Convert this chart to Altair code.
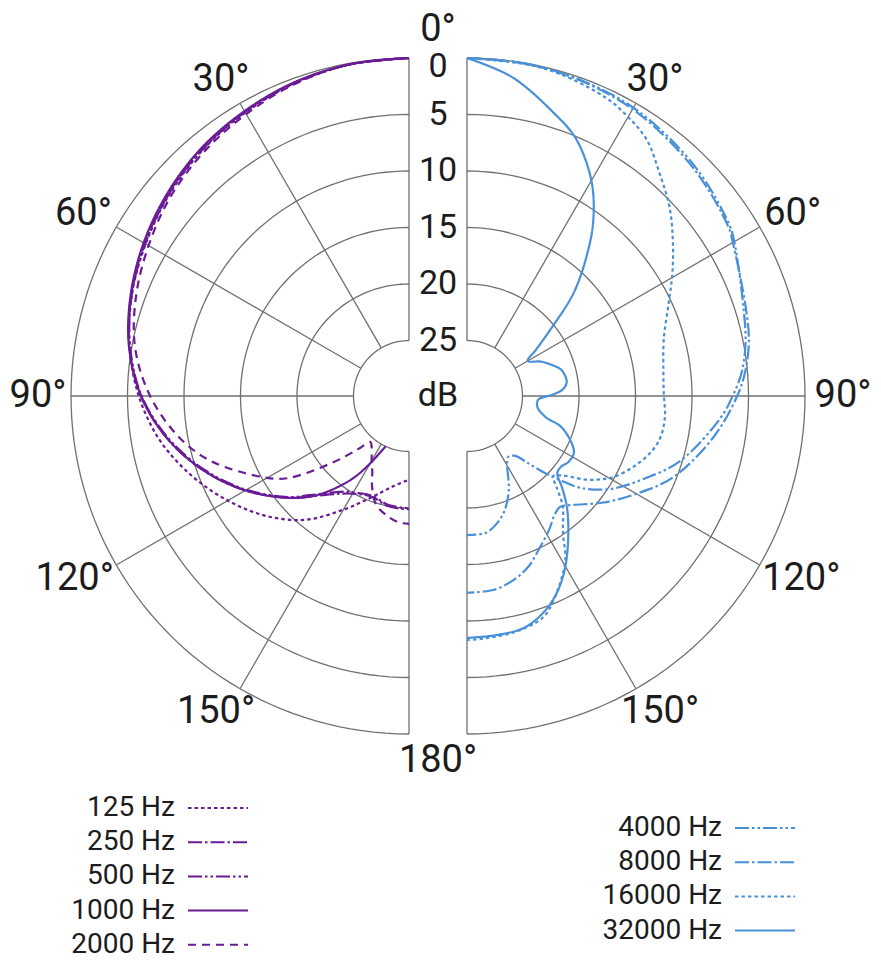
import altair as alt
import pandas as pd

# ---------------- data ----------------
LEFT_FREQS = ["125 Hz", "250 Hz", "500 Hz", "1000 Hz", "2000 Hz"]
RIGHT_FREQS = ["4000 Hz", "8000 Hz", "16000 Hz", "32000 Hz"]

# attenuation (dB) vs angle (deg)
F125_ANG = [0, 10, 20, 30, 40, 50, 60, 70, 80, 90, 100, 110, 120, 130, 140, 150, 160, 170, 180]
F125_DB = [0, 0.1, 0.45, 0.95, 1.5, 2.2, 3.0, 3.8, 4.8, 6.0, 7.5, 9.4, 11.4, 13.4, 15.6, 18.3, 20.4, 21.8, 22.5]

F250_ANG = [0, 10, 20, 30, 40, 50, 60, 70, 80, 90, 100, 110, 120, 130, 135, 141, 146, 152, 160, 169, 178, 180]
F250_DB = [0, 0.1, 0.4, 0.85, 1.4, 2.1, 2.9, 3.75, 4.8, 6.2, 8.2, 10.6, 13.2, 15.9, 17.3, 18.7, 19.5, 20.1, 20.4, 20.0, 19.9, 19.9]

F500_ANG = [0, 10, 20, 30, 40, 50, 60, 70, 80, 90, 100, 110, 120, 130, 135, 141, 146, 152, 160, 169, 178, 180]
F500_DB = [0, 0.1, 0.4, 0.9, 1.45, 2.15, 2.95, 3.8, 4.85, 6.25, 8.3, 10.7, 13.3, 16.0, 17.5, 18.9, 19.7, 20.2, 20.5, 20.1, 20.0, 20.0]

F1000_ANG = [0, 10, 20, 30, 40, 50, 60, 70, 80, 90, 100, 110, 120, 130, 137, 145, 150, 155]
F1000_DB = [0, 0.1, 0.35, 0.8, 1.3, 2.0, 2.8, 3.7, 4.75, 6.2, 8.2, 10.6, 13.2, 15.9, 17.9, 20.8, 23.0, 25.0]

F2000_ANG = [0, 10, 20, 30, 40, 50, 60, 70, 80, 90, 100, 108, 119, 124, 131, 136, 140, 143, 150, 154, 158, 163, 169, 175, 180]
F2000_DB = [0, 0.1, 0.5, 1.1, 1.7, 2.4, 3.3, 4.2, 5.3, 7.0, 9.2, 11.4, 15.1, 16.9, 20.9, 23.3, 24.6, 24.4, 23.3, 22.5, 21.2, 19.9, 19.2, 18.7, 18.6]

F4000_ANG = [0, 10, 20, 31, 45, 57, 60, 72, 79, 85, 90, 95, 107, 115, 123, 129, 132, 135, 138, 141, 146, 150, 156, 162, 167, 172, 180]
F4000_DB = [0, 0.05, 0.2, 0.5, 1.3, 2.2, 2.6, 4.2, 4.8, 5.5, 6.4, 7.4, 10.2, 12.6, 14.8, 17.0, 18.8, 20.4, 22.0, 23.1, 23.4, 22.8, 20.8, 19.2, 18.3, 17.7, 17.6]

F8000_ANG = [0, 10, 20, 31, 45, 57, 60, 72, 79, 85, 90, 99.5, 111.5, 120, 128, 136, 140, 144, 148, 155, 160, 165, 172, 180]
F8000_DB = [0, 0.05, 0.25, 0.65, 1.5, 2.35, 2.75, 4.0, 4.5, 5.2, 6.0, 7.8, 10.3, 12.6, 14.6, 16.5, 17.1, 16.8, 16.1, 14.9, 13.9, 13.2, 12.6, 12.5]

F16000_ANG = [0, 10, 16, 25, 30, 35, 41, 47, 53, 59, 65, 74, 83, 89, 96, 102, 107, 113, 119, 122, 125, 128, 130.5, 133, 135.5, 139, 145, 149, 153, 157, 161, 168.5, 176, 180]
F16000_DB = [0, 0.1, 0.25, 0.8, 1.4, 2.2, 3.9, 5.4, 7.1, 8.7, 10.2, 11.8, 12.4, 12.5, 12.3, 12.4, 12.9, 13.9, 15.1, 16.0, 17.0, 18.3, 19.1, 19.5, 18.6, 17.0, 15.1, 13.0, 11.6, 10.3, 9.2, 8.6, 8.4, 8.3]

F32000_ANG = [0, 8, 17, 23, 30, 35.6, 40, 46, 51.5, 56, 60, 65, 70, 74, 77, 82, 86, 89, 93, 99, 105, 108, 113, 118, 123, 127, 130.5, 134, 138, 143.6, 150, 155, 160, 166, 172.6, 180]
F32000_DB = [0, 1.4, 3.7, 5.2, 7.9, 10.7, 13.3, 16.8, 20.5, 22.5, 23.7, 22.7, 21.9, 21.3, 21.1, 21.0, 21.4, 22.3, 23.6, 23.6, 22.7, 21.2, 20.0, 19.2, 19.2, 19.5, 19.4, 18.2, 16.7, 14.8, 12.5, 10.9, 9.7, 8.8, 8.6, 8.5]

RING_DB = [0, 5, 10, 15, 20, 25]
SPOKE_ANGLES = [0, 30, 60, 90, 120, 150, 180]
SIDE_LABEL_ANGLES = [30, 60, 90, 120, 150]
CENTER_LABEL_ANGLES = [0, 180]

# ---------------- styling / layout ----------------
PURPLE = "#6a1b96"
BLUE = "#4a90d9"
GRID = "#707070"
TEXT = "#1c1c1c"
FONT = "Roboto"

ALL_FREQS = LEFT_FREQS + RIGHT_FREQS
COLORS = [PURPLE] * 5 + [BLUE] * 4
DASHES = [
    [3.5, 3],                 # 125
    [14, 3, 2.5, 3],          # 250
    [14, 3, 2.5, 3, 2.5, 3],  # 500
    [1, 0],                   # 1000
    [8, 6],                   # 2000
    [14, 3, 2.5, 3, 2.5, 3],  # 4000
    [14, 3, 2.5, 3],          # 8000
    [3.5, 3],                 # 16000
    [1, 0],                   # 32000
]

W, H = 865, 952
CXL, CXR, CY, MID = 401, 459, 388, 430
ROUT, K = 338, 11.3

curve_specs = [
    ("125 Hz", -1, F125_ANG, F125_DB),
    ("250 Hz", -1, F250_ANG, F250_DB),
    ("500 Hz", -1, F500_ANG, F500_DB),
    ("1000 Hz", -1, F1000_ANG, F1000_DB),
    ("2000 Hz", -1, F2000_ANG, F2000_DB),
    ("4000 Hz", 1, F4000_ANG, F4000_DB),
    ("8000 Hz", 1, F8000_ANG, F8000_DB),
    ("16000 Hz", 1, F16000_ANG, F16000_DB),
    ("32000 Hz", 1, F32000_ANG, F32000_DB),
]
curve_rows = []
for f, s, angs, dbs in curve_specs:
    for i, (a, d) in enumerate(zip(angs, dbs)):
        curve_rows.append({"freq": f, "side": s, "angle": a, "att": d, "i": i})
curves_df = pd.DataFrame(curve_rows)

ring_rows = []
for d in RING_DB:
    for s in (-1, 1):
        for a in range(0, 181, 2):
            ring_rows.append({"ring": f"{d}_{s}", "side": s, "angle": a, "att": d})
rings_df = pd.DataFrame(ring_rows)

spokes_df = pd.DataFrame([{"side": s, "angle": a} for s in (-1, 1) for a in SPOKE_ANGLES])

labels_rows = [{"label": f"{a}°", "angle": a, "side": s} for s in (-1, 1) for a in SIDE_LABEL_ANGLES]
labels_rows += [{"label": f"{a}°", "angle": a, "side": 0} for a in CENTER_LABEL_ANGLES]
labels_df = pd.DataFrame(labels_rows)

db_df = pd.DataFrame({"db": RING_DB, "label": [str(d) for d in RING_DB]})
unit_df = pd.DataFrame({"label": ["dB"]})

legend_df = pd.DataFrame(
    [{"freq": f, "idx": i, "col": 0} for i, f in enumerate(LEFT_FREQS)]
    + [{"freq": f, "idx": i, "col": 1} for i, f in enumerate(RIGHT_FREQS)]
)

RAD = "PI * datum.angle / 180"
CX = f"(datum.side < 0 ? {CXL} : {CXR})"
R_EXPR = f"({ROUT} - datum.att * {K})"
X_EXPR = f"{CX} + datum.side * {R_EXPR} * sin({RAD})"
Y_EXPR = f"{CY} - {R_EXPR} * cos({RAD})"

X = alt.X("x:Q", scale=alt.Scale(domain=[0, W], nice=False, zero=False), axis=None)
Y = alt.Y("y:Q", scale=alt.Scale(domain=[0, H], nice=False, zero=False, reverse=True), axis=None)
COLOR = alt.Color("freq:N", scale=alt.Scale(domain=ALL_FREQS, range=COLORS), legend=None)
DASH = alt.StrokeDash("freq:N", scale=alt.Scale(domain=ALL_FREQS, range=DASHES), legend=None)

rings = alt.Chart(rings_df).transform_calculate(x=X_EXPR, y=Y_EXPR).mark_line(
    color=GRID, strokeWidth=1.3
).encode(x=X, y=Y, detail="ring:N", order="angle:Q")

spokes = alt.Chart(spokes_df).transform_calculate(
    x=f"{CX} + datum.side * {ROUT - 25 * K} * sin({RAD})",
    y=f"{CY} - {ROUT - 25 * K} * cos({RAD})",
    x2=f"{CX} + datum.side * {ROUT} * sin({RAD})",
    y2=f"{CY} - {ROUT} * cos({RAD})",
).mark_rule(color=GRID, strokeWidth=1.3).encode(x=X, y=Y, x2="x2:Q", y2="y2:Q")

curves = alt.Chart(curves_df).transform_calculate(x=X_EXPR, y=Y_EXPR).mark_line(
    strokeWidth=2.2, interpolate="catmull-rom"
).encode(x=X, y=Y, order="i:Q", color=COLOR, strokeDash=DASH, detail="freq:N")

angle_labels = alt.Chart(labels_df).transform_calculate(
    s=f"sin({RAD})",
    c=f"cos({RAD})",
    rx="346 + length(datum.label) * 10",
    ry="datum.angle == 0 ? 366 : 365",
).transform_calculate(
    x=f"max(30, datum.side == 0 ? {MID} : {CX} + datum.side * datum.s * datum.rx)",
    y=f"{CY} - datum.c * datum.ry",
).mark_text(font=FONT, fontSize=38, color=TEXT, align="center", baseline="middle").encode(
    x=X, y=Y, text="label:N"
)

db_labels = alt.Chart(db_df).transform_calculate(
    x=f"{MID}",
    y=f"{CY} - ({ROUT} - datum.db * {K}) + (datum.db == 0 ? 9 : 0)",
).mark_text(font=FONT, fontSize=34, color=TEXT, align="center", baseline="middle").encode(
    x=X, y=Y, text="label:N"
)

unit_label = alt.Chart(unit_df).transform_calculate(x=f"{MID}", y=f"{CY}").mark_text(
    font=FONT, fontSize=34, color=TEXT, align="center", baseline="middle"
).encode(x=X, y=Y, text="label:N")

LEG_Y = "datum.col == 0 ? 800 + datum.idx * 34.2 : 820 + datum.idx * 34.2"

legend_lines = alt.Chart(legend_df).transform_calculate(
    x="datum.col == 0 ? 180 : 727",
    x2="datum.col == 0 ? 240 : 787",
    y=LEG_Y,
).mark_rule(strokeWidth=2).encode(x=X, y=Y, x2="x2:Q", color=COLOR, strokeDash=DASH)

legend_text = alt.Chart(legend_df).transform_calculate(
    x="datum.col == 0 ? 167 : 714",
    y=LEG_Y,
).mark_text(font=FONT, fontSize=28, color=TEXT, align="right", baseline="middle").encode(
    x=X, y=Y, text="freq:N"
)

chart = alt.layer(
    rings, spokes, curves, angle_labels, db_labels, unit_label, legend_lines, legend_text
).properties(
    width=W, height=H, padding=0, autosize=alt.AutoSizeParams(type="none")
).configure_view(stroke=None)

chart.save("out.html", embed_options={"renderer": "svg", "actions": False})
